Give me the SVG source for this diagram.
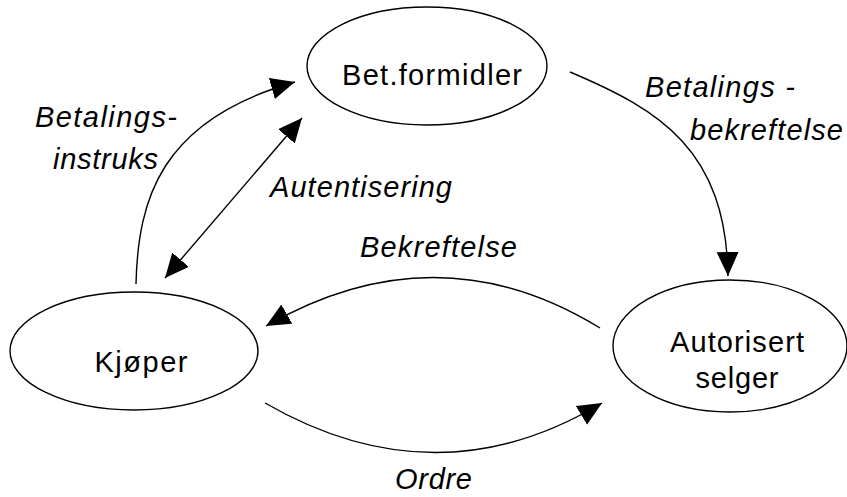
<svg xmlns="http://www.w3.org/2000/svg" width="847" height="497" viewBox="0 0 847 497">
<style>
.node{fill:#fff;stroke:#000;stroke-width:1.4}
.nt{font-family:"Liberation Sans",Arial,sans-serif;font-size:29px;fill:#000;text-anchor:middle}
.lb{font-family:"Liberation Sans",Arial,sans-serif;font-size:29px;font-style:italic;fill:#000}
.edge{fill:none;stroke:#000;stroke-width:1.4}
</style>
<defs>
<marker id="ah" markerUnits="userSpaceOnUse" markerWidth="26" markerHeight="24" refX="24" refY="11" orient="auto-start-reverse" viewBox="0 0 26 24">
<path d="M0,0 L24,11 L0,22 z" fill="#000"/>
</marker>
</defs>
<rect width="847" height="497" fill="#fff"/>
<g id="connectors">
<path class="edge" d="M136,284 C138,200 160,120 295,82" marker-end="url(#ah)"/>
<path class="edge" d="M165,278 L302,118" marker-start="url(#ah)" marker-end="url(#ah)"/>
<path class="edge" d="M570,72 C660,110 726,150 728,276" marker-end="url(#ah)"/>
<path class="edge" d="M600,328 Q437,228 266,326" marker-end="url(#ah)"/>
<path class="edge" d="M265,403 Q437,502 602,403" marker-end="url(#ah)"/>
</g>
<g id="labels">
<text class="lb" x="35" y="127" textLength="142">Betalings-</text>
<text class="lb" x="53" y="169" textLength="105">instruks</text>
<text class="lb" x="645" y="97" textLength="150">Betalings -</text>
<text class="lb" x="690" y="140" textLength="153">bekreftelse</text>
<text class="lb" x="270" y="197" textLength="182">Autentisering</text>
<text class="lb" x="360" y="257" textLength="157">Bekreftelse</text>
<text class="lb" x="395" y="489" textLength="77">Ordre</text>
</g>
<g id="betformidler">
<ellipse class="node" cx="427" cy="66" rx="120" ry="59"/>
<text class="nt" x="432" y="85" textLength="180">Bet.formidler</text>
</g>
<g id="kjoper">
<ellipse class="node" cx="134" cy="351" rx="124" ry="59"/>
<text class="nt" x="141" y="372" textLength="93">Kjøper</text>
</g>
<g id="selger">
<ellipse class="node" cx="730" cy="346" rx="117" ry="66"/>
<text class="nt" x="737" y="352" textLength="134">Autorisert</text>
<text class="nt" x="737" y="388" textLength="83">selger</text>
</g>
</svg>
